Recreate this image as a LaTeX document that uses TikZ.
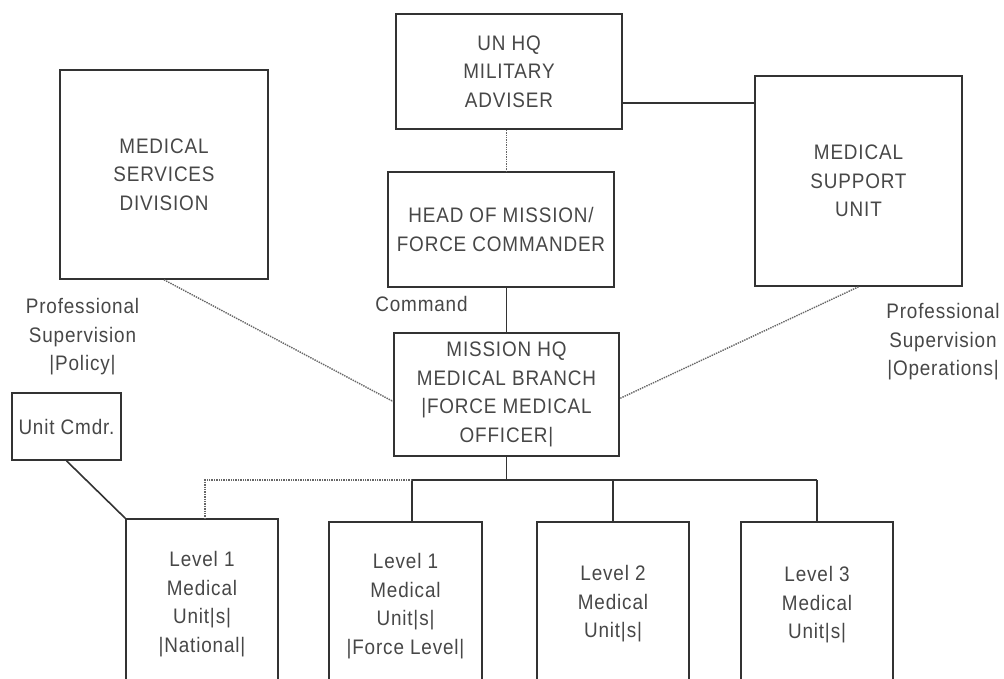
\documentclass[tikz,border=0pt]{standalone}
\usepackage{fontspec}
\setmainfont{Liberation Sans}[FakeStretch=0.9,LetterSpace=4]
\begin{document}
\begin{tikzpicture}[x=1pt,y=-1pt,
  every node/.style={text=black!72, font=\fontsize{21}{28.5}\selectfont, align=center},
  box/.style={draw=black!80, line width=1.6pt, inner sep=0pt, rectangle},
  solidline/.style={draw=black!80, line width=1.6pt},
  dotline/.style={draw=black!60, line width=1.4pt, dash pattern=on 1.4pt off 1pt},
  lbl/.style={inner sep=0pt}]
\useasboundingbox (0,0) rectangle (1004,678);
\clip (0,0) rectangle (1004,678);
\fill[white] (0,0) rectangle (1004,678);
% boxes
\node[box, minimum width=208pt, minimum height=209pt] (msd) at (164,174.5) {MEDICAL\\SERVICES\\DIVISION};
\node[box, minimum width=226pt, minimum height=115pt] (unhq) at (509,71.5) {UN HQ\\MILITARY\\ADVISER};
\node[box, minimum width=226pt, minimum height=115pt] (hom) at (501,229.5) {HEAD OF MISSION/\\FORCE COMMANDER};
\node[box, minimum width=207pt, minimum height=210pt] (msu) at (858.5,181) {MEDICAL\\SUPPORT\\UNIT};
\node[box, minimum width=225pt, minimum height=123pt] (mhq) at (506.5,394.5) {MISSION HQ\\MEDICAL BRANCH\\|FORCE MEDICAL\\OFFICER|};
\node[box, minimum width=109pt, minimum height=67pt] (ucmd) at (66.5,426.5) {Unit Cmdr.};
\node[box, minimum width=152pt, minimum height=170pt] (l1n) at (202,604) {Level 1\\Medical\\Unit|s|\\|National|};
\node[box, minimum width=153pt, minimum height=168pt] (l1f) at (405.5,606) {Level 1\\Medical\\Unit|s|\\|Force Level|};
\node[box, minimum width=152pt, minimum height=164pt] (l2) at (613,604) {Level 2\\Medical\\Unit|s|};
\node[box, minimum width=152pt, minimum height=166pt] (l3) at (817,605) {Level 3\\Medical\\Unit|s|};
% labels
\node[lbl] (pspol) at (82.5,337) {Professional\\Supervision\\|Policy|};
\node[lbl] (cmd) at (421.5,304) {Command};
\node[lbl] (psops) at (943,342) {Professional\\Supervision\\|Operations|};
% coordinates
\coordinate (bus) at (506.5,480);
\coordinate (l1fjoin) at ([xshift=6.5pt]l1f.north);
\coordinate (l1njoin) at (205,519);
% connectors
\draw[solidline] (unhq.east |- 0,103) -- (msu.west |- 0,103);
\draw[dotline] (unhq.south -| mhq.north) -- (hom.north -| mhq.north);
\draw[solidline] (hom.south -| mhq.north) -- (mhq.north);
\draw[dotline] (msd.south) -- ([yshift=-7pt]mhq.west);
\draw[dotline] (msu.south) -- ([yshift=-4pt]mhq.east);
\draw[solidline] (mhq.south) -- (bus);
\draw[solidline] (l1fjoin |- bus) -- (l3.north |- bus);
\draw[solidline] (l1fjoin |- bus) -- (l1fjoin);
\draw[solidline] (l2.north |- bus) -- (l2.north);
\draw[solidline] (l3.north |- bus) -- (l3.north);
\draw[dotline] (l1fjoin |- bus) -- (l1njoin |- bus) -- (l1njoin);
\draw[solidline] (ucmd.south) -- (l1n.north west);
\end{tikzpicture}
\end{document}
